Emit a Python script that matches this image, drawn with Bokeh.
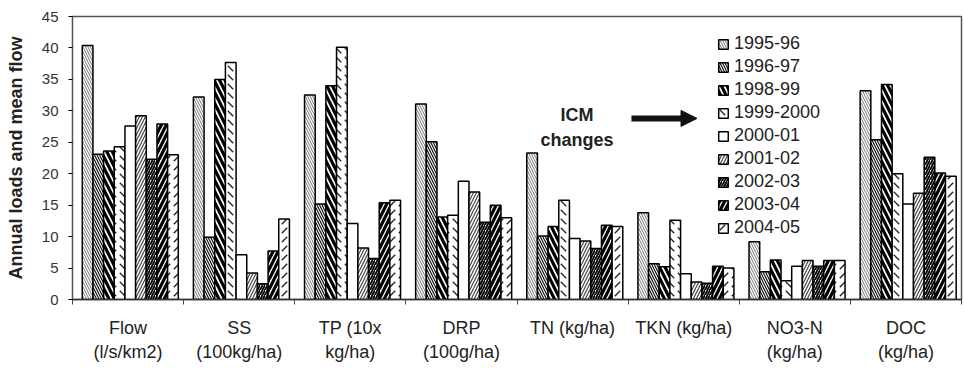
from bokeh.plotting import figure
from bokeh.models import (Range1d, FixedTicker, Arrow, NormalHead, ColumnDataSource)
from bokeh.core.properties import value
from bokeh.embed import file_html
from bokeh.resources import INLINE
import numpy as np

categories = ["Flow\n(l/s/km2)", "SS\n(100kg/ha)", "TP (10x\nkg/ha)", "DRP\n(100g/ha)",
              "TN (kg/ha)", "TKN (kg/ha)", "NO3-N\n(kg/ha)", "DOC\n(kg/ha)"]
years = ["1995-96", "1996-97", "1998-99", "1999-2000", "2000-01",
         "2001-02", "2002-03", "2003-04", "2004-05"]

y1995_96   = [40.4, 32.2, 32.5, 31.1, 23.3, 13.8, 9.2, 33.2]
y1996_97   = [23.1, 9.9, 15.2, 25.1, 10.1, 5.7, 4.4, 25.4]
y1998_99   = [23.6, 35.0, 34.0, 13.1, 11.6, 5.2, 6.3, 34.2]
y1999_2000 = [24.3, 37.7, 40.1, 13.4, 15.8, 12.6, 3.0, 20.0]
y2000_01   = [27.6, 7.1, 12.1, 18.8, 9.7, 4.1, 5.3, 15.2]
y2001_02   = [29.2, 4.2, 8.2, 17.1, 9.3, 2.8, 6.2, 16.9]
y2002_03   = [22.3, 2.5, 6.5, 12.3, 8.1, 2.6, 5.3, 22.6]
y2003_04   = [27.9, 7.7, 15.4, 15.0, 11.8, 5.3, 6.2, 20.1]
y2004_05   = [23.0, 12.8, 15.8, 13.0, 11.6, 5.0, 6.2, 19.6]

series = [y1995_96, y1996_97, y1998_99, y1999_2000, y2000_01,
          y2001_02, y2002_03, y2003_04, y2004_05]

# hatch styles: (pattern, scale, weight, color)
styles = [
    ("left_diagonal_line", 5, 1.0, "#777777"),
    ("left_diagonal_line", 5, 1.2, "#111111"),
    ("left_diagonal_line", 11, 3.2, "#000000"),
    ("left_diagonal_dash", 9, 1.3, "#222222"),
    (None, 1, 1, "#000000"),
    ("right_diagonal_line", 6, 1.2, "#444444"),
    ("right_diagonal_line", 5, 1.8, "#000000"),
    ("right_diagonal_line", 10, 3.2, "#000000"),
    ("right_diagonal_dash", 9, 1.3, "#222222"),
]

BAR_W = 0.096
SHIFT = 0.02

p = figure(width=964, height=368, output_backend="svg", toolbar_location=None,
           x_range=Range1d(0, len(categories)), y_range=Range1d(0, 45),
           min_border_left=72, min_border_right=3, min_border_top=16, min_border_bottom=69)
p.background_fill_color = "white"
p.border_fill_color = "white"
p.xgrid.visible = False
p.ygrid.visible = False
p.outline_line_color = "#555555"
p.outline_line_width = 1.5

centers = np.arange(len(categories)) + 0.5
n = len(years)
for i, (yr, vals, st) in enumerate(zip(years, series, styles)):
    xs = centers + SHIFT + (i - (n - 1) / 2) * BAR_W
    src = ColumnDataSource(dict(x=xs, top=vals))
    kw = dict(x="x", top="top", width=BAR_W, bottom=0, source=src,
              fill_color="white", line_color="black", line_width=1.5,
              legend_label=yr)
    if st[0] is not None:
        kw.update(hatch_pattern=st[0], hatch_scale=st[1], hatch_weight=st[2],
                  hatch_color=st[3])
    p.vbar(**kw)

# x axis: labels at centers, ticks at boundaries
xa = p.xaxis[0]
xa.ticker = FixedTicker(ticks=list(centers), minor_ticks=list(range(len(categories) + 1)))
xa.major_label_overrides = {float(c): lab for c, lab in zip(centers, categories)}
xa.major_tick_line_color = None
xa.minor_tick_out = 5
xa.minor_tick_in = 0
xa.minor_tick_line_color = "#444444"
xa.axis_line_color = "#333333"
xa.axis_line_width = 1.5
xa.major_label_text_font = "Liberation Sans"
xa.major_label_text_font_size = "18px"
xa.major_label_text_color = "#222222"
xa.major_label_standoff = 12

ya = p.yaxis[0]
ya.ticker = FixedTicker(ticks=list(range(0, 46, 5)))
ya.minor_tick_line_color = None
ya.major_tick_out = 4
ya.major_tick_in = 0
ya.axis_line_color = "#555555"
ya.major_label_text_font = "Liberation Sans"
ya.major_label_text_font_size = "15px"
ya.major_label_text_color = "#333333"
ya.major_label_standoff = 10
ya.axis_label = "Annual loads and mean flow"
ya.axis_label_text_font = "Liberation Sans"
ya.axis_label_text_font_style = "bold"
ya.axis_label_text_font_size = "18px"
ya.axis_label_text_color = "#222222"
ya.axis_label_standoff = 13

# annotation
ICM_X = 4.54
p.text(x=[ICM_X, ICM_X], y=[29.3, 25.3], text=["ICM", "changes"],
       text_font=value("Liberation Sans"), text_font_style="bold",
       text_font_size="18px", text_align="center", text_baseline="middle",
       text_color="#222222")
p.add_layout(Arrow(end=NormalHead(size=16, fill_color="#111111", line_color="#111111"),
                   x_start=5.03, y_start=28.8, x_end=5.62, y_end=28.8,
                   line_width=6, line_color="#111111"))

lg = p.legend[0]
lg.location = (645, 60)
lg.border_line_color = None
lg.background_fill_alpha = 0
lg.padding = 0
lg.margin = 0
lg.spacing = 0
lg.label_height = 23
lg.glyph_width = 12
lg.glyph_height = 12
lg.label_standoff = 5
lg.label_text_font = "Liberation Sans"
lg.label_text_font_size = "18px"
lg.label_text_color = "#222222"

open("out.html", "w").write(file_html(p, INLINE))
